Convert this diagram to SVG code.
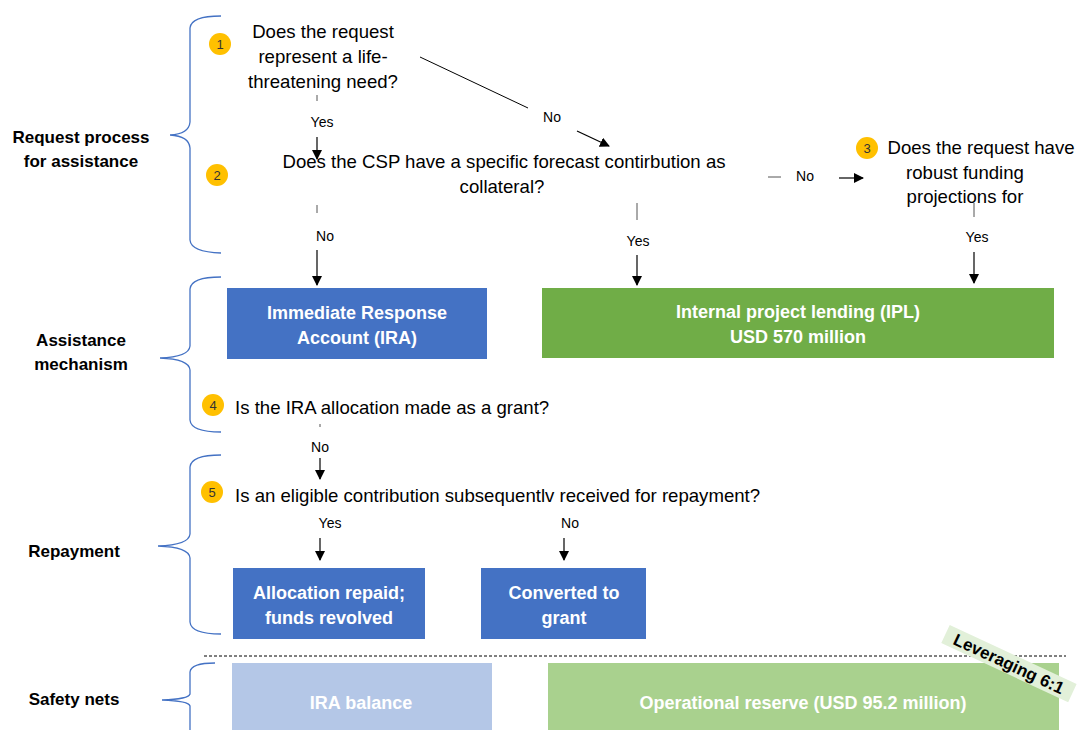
<svg xmlns="http://www.w3.org/2000/svg" width="1078" height="730" viewBox="0 0 1078 730">
<style>
.q{font-family:"Liberation Sans",Arial,sans-serif;font-size:18.6px;fill:#000}
.yn{font-family:"Liberation Sans",Arial,sans-serif;font-size:14px;fill:#000;text-anchor:middle}
.sec{font-family:"Liberation Sans",Arial,sans-serif;font-size:17px;font-weight:bold;fill:#000;text-anchor:middle}
.bt{font-family:"Liberation Sans",Arial,sans-serif;font-size:18px;font-weight:bold;fill:#fff;text-anchor:middle}
.num{font-family:"Liberation Sans",Arial,sans-serif;font-size:13px;fill:#333;text-anchor:middle}
.brace{fill:none;stroke:#4472C4;stroke-width:1.3}
.tick{stroke:#555;stroke-width:1}
.arr{stroke:#000;stroke-width:1.2;fill:none;marker-end:url(#ah)}
.badge{fill:#FFC000}
</style>
<defs>
<marker id="ah" markerWidth="10" markerHeight="10" refX="9" refY="5" orient="auto" markerUnits="userSpaceOnUse">
<path d="M0,0 L10,5 L0,10 Z" fill="#000"/>
</marker>
</defs>
<rect width="1078" height="730" fill="#fff"/>

<g id="braces">
<path class="brace" d="M221,16 Q191,16 190,28 L190,122 Q189,134 170,135 Q189,136 190,148 L190,240 Q191,252 221,253"/>
<path class="brace" d="M221,277 Q191,277 190,289 L190,346 Q189,357 160,358 Q189,359 190,370 L190,420 Q191,432 221,432"/>
<path class="brace" d="M221,455 Q191,455 190,467 L190,534 Q189,545 158,546 Q189,547 190,558 L190,622 Q191,634 221,634"/>
<path class="brace" d="M215,663 Q191,663 190,672 L190,694 Q189,699 162,700 Q189,701 190,706 L190,730"/>
</g>

<g id="section-labels">
<text class="sec" x="81" y="143">Request process</text>
<text class="sec" x="81" y="167">for assistance</text>
<text class="sec" x="81" y="346">Assistance</text>
<text class="sec" x="81" y="370">mechanism</text>
<text class="sec" x="74" y="557">Repayment</text>
<text class="sec" x="74" y="705">Safety nets</text>
</g>

<g id="connectors">
<line class="tick" x1="317" y1="95" x2="317" y2="101"/>
<line class="arr" x1="317" y1="137" x2="317" y2="159"/>
<line x1="420" y1="57" x2="528" y2="108" stroke="#000" stroke-width="1"/>
<line class="arr" x1="577" y1="131" x2="609" y2="146"/>
<line class="tick" x1="317" y1="205" x2="317" y2="213"/>
<line class="arr" x1="317" y1="250" x2="317" y2="285"/>
<line class="tick" x1="637" y1="203" x2="637" y2="220"/>
<line class="arr" x1="637" y1="255" x2="637" y2="285"/>
<line class="tick" x1="768" y1="177" x2="781" y2="177"/>
<line class="arr" x1="839" y1="178" x2="863" y2="178"/>
<line class="tick" x1="974" y1="203" x2="974" y2="217" stroke="#000"/>
<line class="arr" x1="974" y1="252" x2="974" y2="283"/>
<line class="tick" x1="320" y1="424" x2="320" y2="427"/>
<line class="arr" x1="320" y1="458" x2="320" y2="479"/>
<line class="arr" x1="320" y1="538" x2="320" y2="560"/>
<line class="arr" x1="564" y1="538" x2="564" y2="560"/>
<line x1="204" y1="656" x2="1066" y2="656" stroke="#000" stroke-width="1" stroke-dasharray="3,2"/>
</g>

<g id="connector-labels">
<text class="yn" x="322" y="127">Yes</text>
<text class="yn" x="552" y="122">No</text>
<text class="yn" x="325" y="241">No</text>
<text class="yn" x="638" y="246">Yes</text>
<text class="yn" x="805" y="181">No</text>
<text class="yn" x="977" y="242">Yes</text>
<text class="yn" x="320" y="452">No</text>
<text class="yn" x="330" y="528">Yes</text>
<text class="yn" x="570" y="528">No</text>
</g>

<g id="q1">
<circle class="badge" cx="220" cy="44" r="11"/>
<text class="num" x="220" y="49">1</text>
<text class="q" text-anchor="middle" x="323" y="38">Does the request</text>
<text class="q" text-anchor="middle" x="323" y="63">represent a life-</text>
<text class="q" text-anchor="middle" x="323" y="88">threatening need?</text>
</g>

<g id="q2">
<circle class="badge" cx="217" cy="175" r="11"/>
<text class="num" x="217" y="180">2</text>
<text class="q" text-anchor="middle" x="504" y="168">Does the CSP have a specific forecast contirbution as</text>
<text class="q" text-anchor="middle" x="502" y="193">collateral?</text>
</g>

<g id="q3">
<circle class="badge" cx="867" cy="148" r="11"/>
<text class="num" x="867" y="153">3</text>
<text class="q" text-anchor="middle" x="981" y="154">Does the request have</text>
<text class="q" text-anchor="middle" x="965" y="179">robust funding</text>
<text class="q" text-anchor="middle" x="965" y="203">projections for</text>
</g>

<g id="ira">
<rect x="227" y="288" width="260" height="71" fill="#4472C4"/>
<text class="bt" x="357" y="319">Immediate Response</text>
<text class="bt" x="357" y="344">Account (IRA)</text>
</g>

<g id="ipl">
<rect x="542" y="288" width="512" height="70" fill="#70AD47"/>
<text class="bt" x="798" y="318">Internal project lending (IPL)</text>
<text class="bt" x="798" y="343">USD 570 million</text>
</g>

<g id="q4">
<circle class="badge" cx="213" cy="405" r="11"/>
<text class="num" x="213" y="410">4</text>
<text class="q" x="235" y="414">Is the IRA allocation made as a grant?</text>
</g>

<g id="q5">
<circle class="badge" cx="212" cy="492" r="11"/>
<text class="num" x="212" y="497">5</text>
<text class="q" x="235" y="502">Is an eligible contribution subsequentlv received for repayment?</text>
</g>

<g id="repaid">
<rect x="233" y="568" width="192" height="71" fill="#4472C4"/>
<text class="bt" x="329" y="599">Allocation repaid;</text>
<text class="bt" x="329" y="624">funds revolved</text>
</g>

<g id="converted">
<rect x="481" y="568" width="165" height="71" fill="#4472C4"/>
<text class="bt" x="564" y="599">Converted to</text>
<text class="bt" x="564" y="624">grant</text>
</g>

<g id="ira-balance">
<rect x="232" y="663" width="260" height="67" fill="#B4C7E7"/>
<text class="bt" x="361" y="709">IRA balance</text>
</g>

<g id="op-reserve">
<rect x="548" y="663" width="511" height="67" fill="#A9D18E"/>
<text class="bt" x="803" y="709">Operational reserve (USD 95.2 million)</text>
</g>

<g id="leveraging" transform="translate(945.5,634) rotate(25)">
<rect x="0" y="-10" width="140" height="20" fill="#E2F0D9"/>
<text x="70" y="6" text-anchor="middle" font-family="Liberation Sans, Arial, sans-serif" font-size="17" font-weight="bold" fill="#000">Leveraging 6:1</text>
</g>
</svg>
